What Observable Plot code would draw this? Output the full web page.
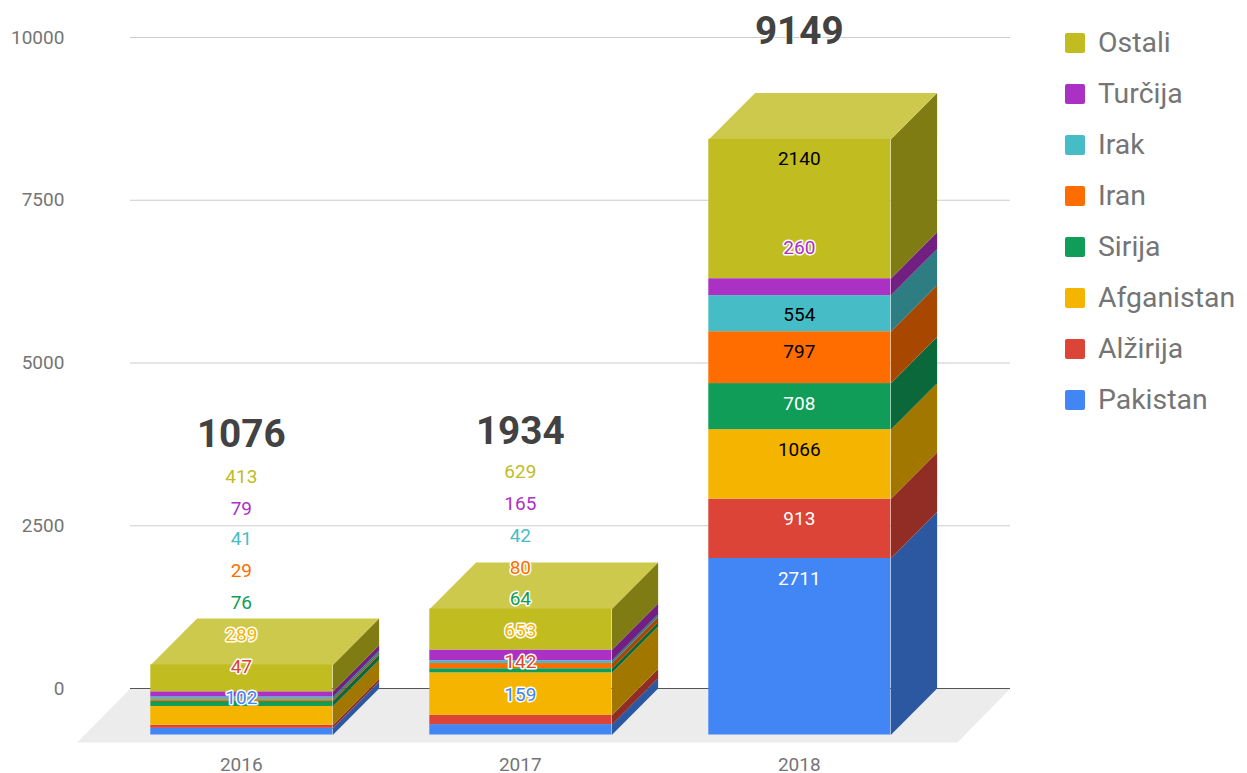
<!DOCTYPE html>
<html>
<head>
<meta charset="utf-8">
<script src="https://cdn.jsdelivr.net/npm/d3@7"></script>
<script src="https://cdn.jsdelivr.net/npm/@observablehq/plot@0.6"></script>
<style>
  html, body { margin: 0; padding: 0; background: #fff; }
  #wrap { position: relative; width: 1247px; height: 773px; overflow: hidden; font-family: Roboto, sans-serif; }
  #legend { position: absolute; left: 1065px; top: 17px; }
  .row { display: flex; align-items: center; height: 51px; font-size: 28.4px; color: #757575; }
  .sw { width: 20px; height: 20px; border-radius: 2px; margin-right: 13px; flex: none; }
</style>
</head>
<body>
<div id="wrap"><div id="chart"></div><div id="legend"></div></div>
<script>
const years = ["2016", "2017", "2018"];
const series = ["Pakistan", "Alžirija", "Afganistan", "Sirija", "Iran", "Irak", "Turčija", "Ostali"];
const colors = ["#4285f4", "#db4437", "#f4b400", "#0f9d58", "#ff6d00", "#46bdc6", "#ab30c4", "#c1bc1f"];
const values2016 = [102, 47, 289, 76, 29, 41, 79, 413];
const values2017 = [159, 142, 653, 64, 80, 42, 165, 629];
const values2018 = [2711, 913, 1066, 708, 797, 554, 260, 2140];
const totals = [1076, 1934, 9149];
const yTicks = [0, 2500, 5000, 7500, 10000];

// Where the chart's collision-avoiding label layout put each value, read in axis units.
const labelAt2016 = [-138, 338, 829, 1321, 1813, 2304, 2765, 3257];
const labelAt2017 = [-92, 415, 891, 1382, 1859, 2350, 2842, 3333];
const labelAt2018 = [1690, 2611, 3671, 4378, 5177, 5745, 6774, 8141];
const totalAt = [3902, 3948, 10092];
const ink2018 = ["#fff", "#fff", "#000", "#fff", "#000", "#000", null, "#000"];

// 3D projection, in axis units
const halfWidth = 91 / 279;
const depthX = 46.3 / 279;
const depthY = 714;
const yearLabelY = -1175;
const floorY = -830;
const gridX = [-0.399, 2.755];
const floorX = [-0.59, 2.565];

const valuesByYear = [values2016, values2017, values2018];
const labelsByYear = [labelAt2016, labelAt2017, labelAt2018];

const shade = c => { const k = d3.rgb(c); return d3.rgb(k.r * .66, k.g * .66, k.b * .66).formatHex(); };
const tint = c => d3.interpolateRgb(c, "#fff")(0.2);

const fronts = [], polys = [], labels = [];
valuesByYear.forEach((vals, i) => {
  let base = 0;
  vals.forEach((v, s) => {
    const top = base + v;
    const x2 = i + halfWidth, x3 = x2 + depthX;
    fronts.push({x1: i - halfWidth, x2, y1: base - depthY, y2: top - depthY, fill: colors[s]});
    const id = `side-${i}-${s}`;
    polys.push(
      {id, fill: shade(colors[s]), x: x2, y: base - depthY},
      {id, fill: shade(colors[s]), x: x3, y: base},
      {id, fill: shade(colors[s]), x: x3, y: top},
      {id, fill: shade(colors[s]), x: x2, y: top - depthY}
    );
    if (s === vals.length - 1) {
      const id2 = `top-${i}`, f = tint(colors[s]);
      polys.push(
        {id: id2, fill: f, x: i - halfWidth, y: top - depthY},
        {id: id2, fill: f, x: x2, y: top - depthY},
        {id: id2, fill: f, x: x3, y: top},
        {id: id2, fill: f, x: i - halfWidth + depthX, y: top}
      );
    }
    const ink = i === 2 ? ink2018[s] : null;
    labels.push({x: i, y: labelsByYear[i][s], text: String(v), fill: ink || colors[s], halo: !ink});
    base = top;
  });
});

const floor = [
  {x: floorX[0], y: floorY}, {x: gridX[0], y: 0}, {x: gridX[1], y: 0}, {x: floorX[1], y: floorY}
];
const totalRows = totals.map((t, i) => ({x: i, y: totalAt[i], text: String(t)}));
const textBase = {fontFamily: "Roboto, sans-serif", lineAnchor: "middle", dx: -0.5};

const chart = Plot.plot({
  width: 1247, height: 773,
  marginTop: 0, marginRight: 0, marginBottom: 0, marginLeft: 0,
  x: {type: "linear", domain: [0, 2], range: [241.3, 799.3], axis: null},
  y: {type: "linear", domain: [0, 10000], range: [688, 37], axis: null},
  color: {type: "identity"},
  style: {background: "#fff", display: "block"},
  marks: [
    Plot.line(floor, {x: "x", y: "y", fill: "#ececec", stroke: "none"}),
    Plot.ruleY(yTicks.filter(d => d !== 0), {y: d => d, x1: () => gridX[0], x2: () => gridX[1], stroke: "#ccc", strokeWidth: 1.2}),
    Plot.ruleY([0], {y: d => d, x1: () => gridX[0], x2: () => gridX[1], stroke: "#555", strokeWidth: 1.2}),
    Plot.line(polys, {x: "x", y: "y", z: "id", fill: "fill", stroke: "none"}),
    Plot.rect(fronts, {x1: "x1", x2: "x2", y1: "y1", y2: "y2", fill: "fill"}),
    Plot.text(yTicks, {...textBase, x: () => -0.634, y: d => d, text: d => String(d), textAnchor: "end", fill: "#757575", fontSize: 19}),
    Plot.text(years, {...textBase, x: (d, i) => i, y: () => yearLabelY, text: d => d, fill: "#757575", fontSize: 19}),
    Plot.text(labels.filter(d => !d.halo), {...textBase, x: "x", y: "y", text: "text", fill: "fill", fontSize: 19}),
    Plot.text(labels.filter(d => d.halo), {...textBase, x: "x", y: "y", text: "text", fill: "fill", stroke: "#fff", strokeWidth: 3, paintOrder: "stroke", fontSize: 19}),
    Plot.text(totalRows, {...textBase, x: "x", y: "y", text: "text", fill: "#424242", stroke: "#fff", strokeWidth: 2, paintOrder: "stroke", fontSize: 38.7, fontWeight: 700})
  ]
});
document.getElementById("chart").append(chart);

const legend = d3.select("#legend");
series.slice().reverse().forEach((name, i) => {
  const row = legend.append("div").attr("class", "row");
  row.append("div").attr("class", "sw").style("background", colors[series.length - 1 - i]);
  row.append("div").text(name);
});
</script>
</body>
</html>
